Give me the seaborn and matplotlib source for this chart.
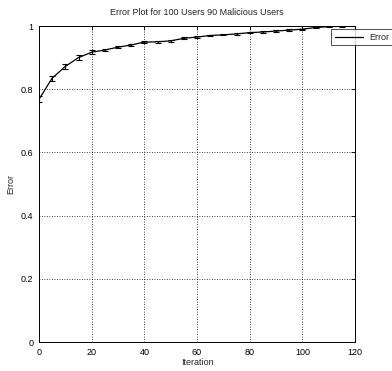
import matplotlib
matplotlib.use("Agg")
import matplotlib.pyplot as plt
import seaborn as sns
import pandas as pd

iterations = [0, 5, 10, 15, 20, 25, 30, 35, 40, 45, 50, 55, 60, 65, 70, 75, 80, 85, 90, 95, 100, 105, 110, 115, 120]
error = [0.768, 0.835, 0.872, 0.900, 0.917, 0.924, 0.933, 0.940, 0.949, 0.950, 0.953, 0.961, 0.965, 0.970, 0.972, 0.975, 0.979, 0.981, 0.984, 0.987, 0.990, 0.995, 0.998, 0.999, 1.000]
err_bar = [0.010, 0.008, 0.008, 0.007, 0.006, 0.004, 0.004, 0.003, 0.003, 0.003, 0.003, 0.003, 0.002, 0.002, 0.002, 0.002, 0.002, 0.002, 0.002, 0.002, 0.002, 0.002, 0.001, 0.001, 0.001]
x_ticks = [0, 20, 40, 60, 80, 100, 120]
y_ticks = [0, 0.2, 0.4, 0.6, 0.8, 1.0]
y_tick_labels = ["0", "0.2", "0.4", "0.6", "0.8", "1"]
title = "Error Plot for 100 Users 90 Malicious Users"

sns.set_style("white")
plt.rcParams['font.family'] = ['Liberation Sans', 'DejaVu Sans']

df = pd.DataFrame({"Iteration": iterations, "Error": error})

fig = plt.figure(figsize=(3.92, 3.71), dpi=100)
ax = fig.add_axes([39/392, 29/371, 316/392, 316/371])

sns.lineplot(data=df, x="Iteration", y="Error", ax=ax, color="black", linewidth=0.9, label="Error")
ax.errorbar(iterations, error, yerr=err_bar, fmt="none", ecolor="black", elinewidth=0.8, capsize=2.5, capthick=0.8)

ax.set_xlim(0, 120)
ax.set_ylim(0, 1)
ax.set_xticks(x_ticks)
ax.set_yticks(y_ticks)
ax.set_yticklabels(y_tick_labels)
ax.tick_params(direction="in", length=3, width=0.6, labelsize=6.5, top=True, right=True, colors="black", pad=4)
ax.grid(True, linestyle=(0, (1, 2)), color="black", linewidth=0.6)
for s in ax.spines.values():
    s.set_color("black")
    s.set_linewidth(0.7)
ax.set_xlabel("Iteration", fontsize=6.5, labelpad=1)
ax.set_ylabel("Error", fontsize=6.5, labelpad=12 - 8)
ax.set_title(title, fontsize=6.5, pad=8)

leg = ax.legend(loc="upper left", bbox_to_anchor=(0.924, 0.99), borderaxespad=0,
                fontsize=6.5, frameon=True, fancybox=False, edgecolor="black",
                handlelength=3.2, handletextpad=0.6, borderpad=0.4)
leg.get_frame().set_linewidth(0.6)

fig.savefig("out.png", dpi=100)
